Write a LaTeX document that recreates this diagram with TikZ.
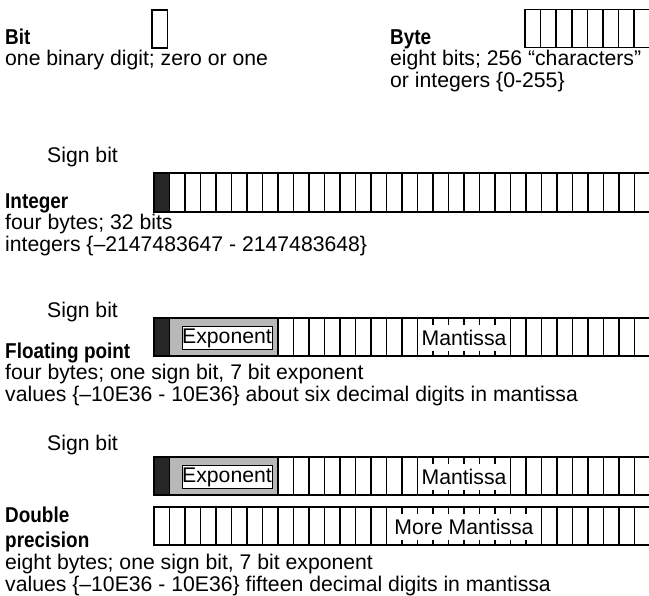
\documentclass[tikz,border=0pt]{standalone}
\usepackage{fontspec}
\usepackage{graphicx}
\setmainfont{Liberation Sans}
% condensed bold for the type headings
\newcommand{\hd}[1]{\scalebox{0.88}[1]{\bfseries #1}}
\begin{document}
\begin{tikzpicture}[x=1bp,y=-1bp,
  cell/.style={draw=black,line width=1.5bp},
  signcell/.style={fill=black!85},
  stipple/.style={fill=black!28},
  txt/.style={inner sep=0pt,anchor=base west,font=\fontsize{21.2bp}{25bp}\selectfont},
  head/.style={txt,font=\fontsize{21.5bp}{25bp}\selectfont},
  label/.style={inner sep=0pt,font=\fontsize{21.2bp}{25bp}\selectfont},
  cover/.style={fill=white,draw=none}]
\useasboundingbox (0,0) rectangle (649,596);

% ---------- Bit ----------
\draw[cell] (152,10) rectangle (167.5,48);
\node[head] (bit) at (5,45) {\hd{Bit}};
\node[txt] (bitd) at (5,66) {one binary digit; zero or one};

% ---------- Byte ----------
\foreach \k in {0,...,7}
  \draw[cell] ({525+15.6*\k},9.5) rectangle ++(15.6,38);
\node[head] (byte) at (390,45) {\hd{Byte}};
\node[txt] (byted1) at (390,66) {eight bits; 256 “characters”};
\node[txt] (byted2) at (390,88) {or integers \{0-255\}};

% ---------- Integer ----------
\fill[signcell] (154,173) rectangle (169.5,212);
\foreach \k in {0,...,31}
  \draw[cell] ({154+15.5*\k},173) rectangle ++(15.5,39);
\node[txt] (isign) at (47,163) {Sign bit};
\node[head] (int) at (5,208) {\hd{Integer}};
\node[txt] (intd1) at (5,229) {four bytes; 32 bits};
\node[txt] (intd2) at (5,251) {integers \{–2147483647 - 2147483648\}};

% ---------- Floating point ----------
\begin{scope}[yshift=-318bp]
  \fill[signcell] (154,0) rectangle (169.5,38);
  \fill[stipple] (169.5,0) rectangle (278,38);
  \foreach \k in {0,8,9,...,31}
    \draw[cell] ({154+15.5*\k},0) rectangle ++(15.5,38);
  \draw[cell] (169.5,0) rectangle (278,38);
  \draw[fill=white,line width=0.7bp] (182,8) rectangle (272,31);
  \fill[cover] (419,7) rectangle (509,33);
\end{scope}
\node[label] (fexp) at (227,338) {Exponent};
\node[label] (fman) at (464,338) {Mantissa};
\node[txt] (fsign) at (47,317) {Sign bit};
\node[head] (float) at (5,358) {\hd{Floating point}};
\node[txt] (floatd1) at (5,379) {four bytes; one sign bit, 7 bit exponent};
\node[txt] (floatd2) at (5,401) {values \{–10E36 - 10E36\} about six decimal digits in mantissa};

% ---------- Double precision ----------
\begin{scope}[yshift=-457bp]
  \fill[signcell] (154,0) rectangle (169.5,38);
  \fill[stipple] (169.5,0) rectangle (278,38);
  \foreach \k in {0,8,9,...,31}
    \draw[cell] ({154+15.5*\k},0) rectangle ++(15.5,38);
  \draw[cell] (169.5,0) rectangle (278,38);
  \draw[fill=white,line width=0.7bp] (182,8) rectangle (272,31);
  \fill[cover] (419,7) rectangle (509,33);
\end{scope}
\begin{scope}[yshift=-507bp]
  \foreach \k in {0,...,31}
    \draw[cell] ({154+15.5*\k},0) rectangle ++(15.5,38);
  \fill[cover] (388,7) rectangle (540,33);
\end{scope}
\node[label] (dexp) at (227,477) {Exponent};
\node[label] (dman) at (464,477) {Mantissa};
\node[label] (dmore) at (464,527) {More Mantissa};
\node[txt] (dsign) at (47,450) {Sign bit};
\node[head] (dbl1) at (5,522) {\hd{Double}};
\node[head] (dbl2) at (5,547) {\hd{precision}};
\node[txt] (dbld1) at (5,569) {eight bytes; one sign bit, 7 bit exponent};
\node[txt] (dbld2) at (5,591) {values \{–10E36 - 10E36\} fifteen decimal digits in mantissa};
\end{tikzpicture}
\end{document}
